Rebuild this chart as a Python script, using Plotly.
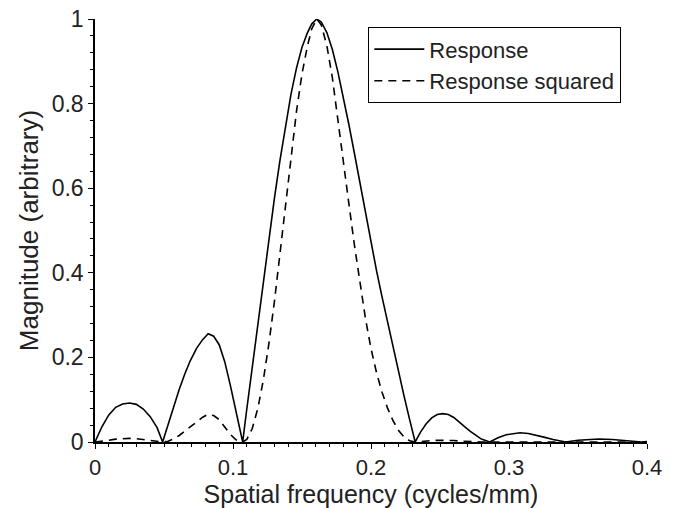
import plotly.graph_objects as go

# Spatial frequency samples (cycles/mm)
freq = [0, 0.005, 0.010, 0.015, 0.020, 0.025, 0.030, 0.035, 0.040, 0.045, 0.049,
        0.053, 0.057, 0.061, 0.065, 0.069, 0.0737, 0.078, 0.082, 0.086, 0.090, 0.094, 0.098, 0.102, 0.105, 0.107,
        0.110, 0.114, 0.118, 0.122, 0.126, 0.130, 0.134, 0.138, 0.142, 0.146, 0.150, 0.154, 0.157, 0.1606,
        0.164, 0.168, 0.172, 0.176, 0.180, 0.184, 0.188, 0.192, 0.196, 0.200, 0.204, 0.208, 0.212, 0.216,
        0.220, 0.224, 0.228, 0.232,
        0.236, 0.240, 0.244, 0.248, 0.252, 0.256, 0.260, 0.264, 0.268, 0.272, 0.276, 0.280, 0.286,
        0.292, 0.298, 0.304, 0.308, 0.314, 0.320, 0.326, 0.332, 0.341,
        0.350, 0.358, 0.365, 0.375, 0.385, 0.396, 0.400]

response = [0, 0.036, 0.064, 0.082, 0.090, 0.092, 0.089, 0.078, 0.060, 0.034, 0,
            0.043, 0.085, 0.124, 0.160, 0.192, 0.222, 0.242, 0.256, 0.250, 0.230, 0.190, 0.135, 0.075, 0.030, 0,
            0.078, 0.180, 0.282, 0.383, 0.482, 0.576, 0.665, 0.748, 0.822, 0.884, 0.933, 0.968, 0.988, 1.0,
            0.993, 0.968, 0.928, 0.875, 0.815, 0.750, 0.682, 0.612, 0.540, 0.470, 0.405, 0.343, 0.283, 0.224,
            0.165, 0.108, 0.053, 0,
            0.024, 0.043, 0.057, 0.065, 0.067, 0.065, 0.058, 0.048, 0.036, 0.025, 0.015, 0.007, 0,
            0.010, 0.017, 0.021, 0.022, 0.020, 0.016, 0.011, 0.006, 0,
            0.004, 0.0065, 0.007, 0.006, 0.003, 0, 0.001]

response_sq = [0, 0.0013, 0.0041, 0.0067, 0.0081, 0.0085, 0.0079, 0.0061, 0.0036, 0.0012, 0,
               0.0018, 0.0072, 0.0154, 0.0256, 0.0369, 0.0493, 0.0586, 0.0655, 0.0625, 0.0529, 0.0361, 0.0182, 0.0056, 0.0009, 0,
               0.0061, 0.0324, 0.0795, 0.1467, 0.2323, 0.3318, 0.4422, 0.5595, 0.6757, 0.7815, 0.8705, 0.9370, 0.9761, 1.0,
               0.9860, 0.9370, 0.8612, 0.7656, 0.6642, 0.5625, 0.4651, 0.3745, 0.2916, 0.2209, 0.1640, 0.1176, 0.0801, 0.0502,
               0.0272, 0.0117, 0.0028, 0,
               0.0006, 0.0018, 0.0032, 0.0042, 0.0045, 0.0042, 0.0034, 0.0023, 0.0013, 0.0006, 0.0002, 0.00005, 0,
               0.0001, 0.0003, 0.0004, 0.0005, 0.0004, 0.0003, 0.0001, 0.00004, 0,
               0.00002, 0.00004, 0.00005, 0.00004, 0.00001, 0, 0]

x_ticks = [0, 0.1, 0.2, 0.3, 0.4]
x_tick_labels = ["0", "0.1", "0.2", "0.3", "0.4"]
y_ticks = [0, 0.2, 0.4, 0.6, 0.8, 1]
y_tick_labels = ["0", "0.2", "0.4", "0.6", "0.8", "1"]

FONT = "Liberation Sans, Arial, sans-serif"
TXT = "#222222"

fig = go.Figure()
fig.add_trace(go.Scatter(x=freq, y=response, mode="lines", name="Response",
                         line=dict(color="black", width=1.6)))
fig.add_trace(go.Scatter(x=freq, y=response_sq, mode="lines", name="Response squared",
                         line=dict(color="black", width=1.6, dash="8px,6px")))

axis_common = dict(showline=True, linecolor="black", linewidth=1.5, mirror=False,
                   showgrid=False, zeroline=False, ticks="outside", ticklen=5,
                   tickwidth=1.3, tickcolor="black", automargin=False)

fig.update_xaxes(range=[0, 0.4], tickvals=x_ticks, ticktext=x_tick_labels,
                 tickfont=dict(family=FONT, size=22, color=TXT),
                 title=dict(text="Spatial frequency (cycles/mm)",
                            font=dict(family=FONT, size=25, color=TXT), standoff=6),
                 minor=dict(ticks="outside", ticklen=3, tickwidth=1, tickcolor="black", dtick=0.01),
                 **axis_common)
fig.update_yaxes(range=[0, 1], tickvals=y_ticks, ticktext=y_tick_labels,
                 tickfont=dict(family=FONT, size=23, color=TXT),
                 title=dict(text="Magnitude (arbitrary)",
                            font=dict(family=FONT, size=26, color=TXT), standoff=6),
                 minor=dict(ticks="outside", ticklen=3, tickwidth=1, tickcolor="black", dtick=0.04),
                 **axis_common)

fig.update_layout(
    width=681, height=508,
    margin=dict(l=95, r=34, t=19, b=66),
    paper_bgcolor="white", plot_bgcolor="white",
    showlegend=True,
    legend=dict(x=0.4946, y=0.981, xanchor="left", yanchor="top",
                bgcolor="white", bordercolor="black", borderwidth=1.3,
                font=dict(family=FONT, size=22, color=TXT),
                tracegroupgap=0, itemwidth=50),
)

fig.write_html("out.html", config={"displayModeBar": False},
               post_script="document.body.style.margin='0px';")
